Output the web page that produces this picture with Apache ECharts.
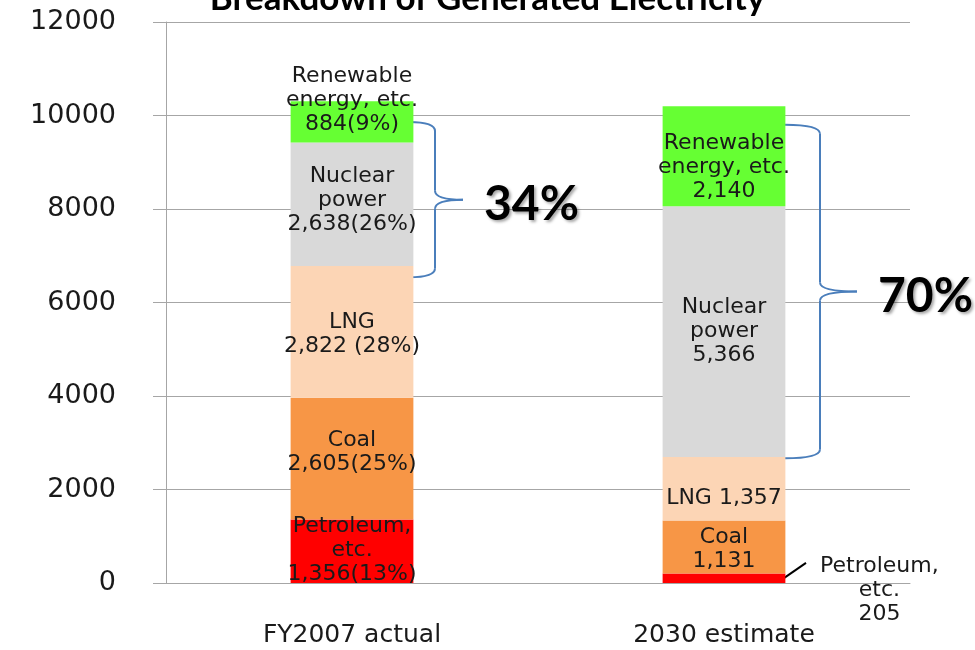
<!DOCTYPE html>
<html>
<head>
<meta charset="utf-8">
<script src="https://cdn.jsdelivr.net/npm/echarts@6/dist/echarts.min.js"></script>
<style>
  html, body { margin: 0; padding: 0; background: #fff; }
  #main { width: 975px; height: 650px; }
</style>
</head>
<body>
<div id="main"></div>
<script>
// categories and stacked values
const categories = ["FY2007 actual", "2030 estimate"];
const petroleum = [1356, 205];
const coal = [2605, 1131];
const lng = [2822, 1357];
const nuclear = [2638, 5366];
const renewable = [884, 2140];

// texts shown on each segment
const petroleumText = ["Petroleum,\netc.\n1,356(13%)", "Petroleum,\netc.\n205"];
const coalText = ["Coal\n2,605(25%)", "Coal\n1,131"];
const lngText = ["LNG\n2,822 (28%)", "LNG 1,357"];
const nuclearText = ["Nuclear\npower\n2,638(26%)", "Nuclear\npower\n5,366"];
const renewableText = ["Renewable\nenergy, etc.\n884(9%)", "Renewable\nenergy, etc.\n2,140"];

// brace ranges (value units) and the share they mark
const braceRanges = [[6540, 9860], [2670, 9800]];
const braceTexts = ["34%", "70%"];

const yTicks = [0, 2000, 4000, 6000, 8000, 10000, 12000];

const font = "DejaVu Sans";
const chart = echarts.init(document.getElementById("main"));

// builds the data items of one segment, with per-item label tweaks
function items(values, texts, tweaks) {
  return values.map((v, i) => {
    const it = { value: v, label: { formatter: texts[i] } };
    if (tweaks && tweaks[i]) Object.assign(it.label, tweaks[i]);
    return it;
  });
}

function seg(name, color, values, texts, tweaks) {
  return {
    name: name,
    type: "bar",
    stack: "total",
    barWidth: "33%",
    itemStyle: { color: color },
    label: {
      show: true,
      position: "inside",
      color: "#1a1a1a",
      fontFamily: font,
      fontSize: 22,
      lineHeight: 24,
      align: "center"
    },
    data: items(values, texts, tweaks)
  };
}

const option = {
  animation: false,
  title: {
    text: "Breakdown of Generated Electricity",
    left: "center",
    top: -24,
    textStyle: { fontFamily: "Lato", fontWeight: "bold", fontSize: 35, color: "#000" }
  },
  grid: { left: 166, right: 65, top: 22, bottom: 67 },
  xAxis: {
    type: "category",
    data: categories,
    axisLine: { show: true, lineStyle: { color: "#a6a6a6" } },
    axisTick: { show: false },
    axisLabel: { margin: 40, fontFamily: font, fontSize: 25, color: "#1a1a1a" }
  },
  yAxis: {
    type: "value",
    min: 0,
    max: 12000,
    interval: 2000,
    axisLine: { show: true, lineStyle: { color: "#a6a6a6" } },
    axisTick: { show: true, length: 13, lineStyle: { color: "#a6a6a6" } },
    splitLine: { lineStyle: { color: "#a6a6a6" } },
    axisLabel: {
      margin: 50,
      fontFamily: font,
      fontSize: 27,
      color: "#1a1a1a",
      formatter: v => (yTicks.indexOf(v) >= 0 ? String(v) : "")
    }
  },
  series: [
    seg("Petroleum, etc.", "#ff0000", petroleum, petroleumText,
      [{ offset: [0, -1] }, { position: "right", distance: 5, offset: [89, 12] }]),
    seg("Coal", "#f79646", coal, coalText, [{ offset: [0, -6] }, { offset: [0, 2] }]),
    seg("LNG", "#fcd5b5", lng, lngText, [{ offset: [0, 2] }, { offset: [0, 9] }]),
    seg("Nuclear power", "#d9d9d9", nuclear, nuclearText, [{ offset: [0, -4] }, null]),
    seg("Renewable energy, etc.", "#66ff33", renewable, renewableText, [{ offset: [0, -22] }, { offset: [0, 11] }])
  ]
};
chart.setOption(option);

// braces, percentages and the leader line, placed through the chart's scales
function drawNotes() {
  const g = [];
  const dims = [
    { start: 57, depth: 26, tip: 28 },
    { start: 61, depth: 35, tip: 37 }
  ];
  const braceStyle = { fill: null, stroke: "#4a7ebb", lineWidth: 2 };
  braceRanges.forEach((r, i) => {
    const top = chart.convertToPixel({ xAxisIndex: 0, yAxisIndex: 0 }, [i, r[1]]);
    const bot = chart.convertToPixel({ xAxisIndex: 0, yAxisIndex: 0 }, [i, r[0]]);
    const x0 = top[0] + dims[i].start;
    const x1 = x0 + dims[i].depth;
    const xt = x1 + dims[i].tip;
    const yT = top[1], yB = bot[1], yM = (yT + yB) / 2;
    const c = 9;
    const curves = [
      [x0, yT, x1, yT + c, x1, yT],
      [x1, yM - c, xt, yM, x1, yM],
      [xt, yM, x1, yM + c, x1, yM],
      [x1, yB - c, x0, yB, x1, yB]
    ];
    curves.forEach(q => {
      g.push({
        type: "bezierCurve",
        shape: { x1: q[0], y1: q[1], x2: q[2], y2: q[3], cpx1: q[4], cpy1: q[5] },
        style: braceStyle
      });
    });
    g.push({ type: "line", shape: { x1: x1, y1: yT + c, x2: x1, y2: yM - c }, style: braceStyle });
    g.push({ type: "line", shape: { x1: x1, y1: yM + c, x2: x1, y2: yB - c }, style: braceStyle });
    g.push({
      type: "text",
      x: xt + 21,
      y: yM + 5,
      style: {
        text: braceTexts[i],
        fontFamily: "Lato",
        fontWeight: "bold",
        fontSize: 48,
        fill: "#000",
        align: "left",
        verticalAlign: "middle",
        textShadowColor: "rgba(0,0,0,0.35)",
        textShadowBlur: 3,
        textShadowOffsetX: 2,
        textShadowOffsetY: 2
      }
    });
  });
  // leader line for the small petroleum segment of 2030
  const a = chart.convertToPixel({ xAxisIndex: 0, yAxisIndex: 0 }, [1, 60]);
  const b = chart.convertToPixel({ xAxisIndex: 0, yAxisIndex: 0 }, [1, 430]);
  g.push({
    type: "line",
    shape: { x1: a[0] + 57, y1: a[1], x2: b[0] + 82, y2: b[1] },
    style: { stroke: "#000", lineWidth: 2 }
  });
  chart.setOption({ graphic: g });
}
drawNotes();
</script>
</body>
</html>
